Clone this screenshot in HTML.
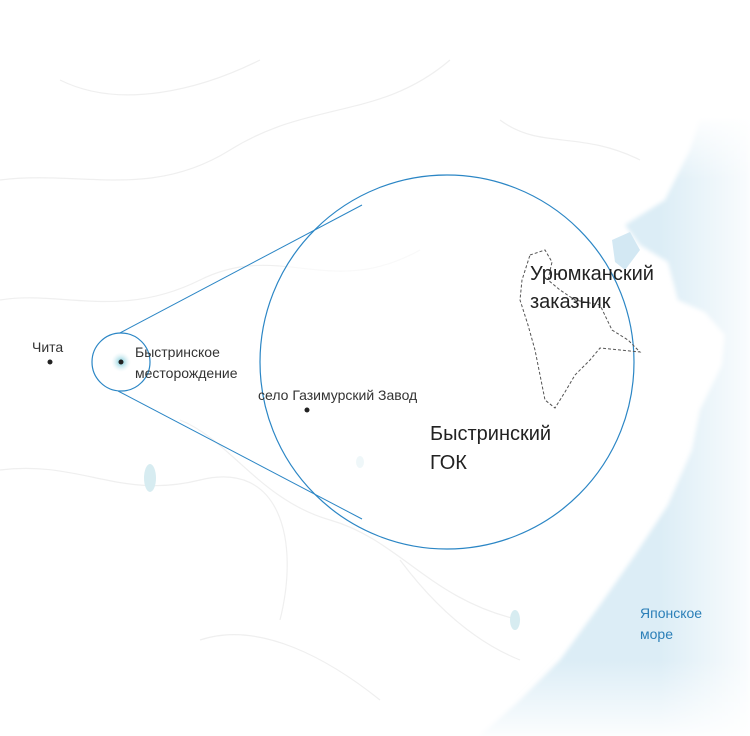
<!DOCTYPE html>
<html><head><meta charset="utf-8"><style>
html,body{margin:0;padding:0;background:#fff;}
svg{display:block;font-family:"Liberation Sans","Noto Sans CJK SC",sans-serif;}
</style></head><body>
<svg width="750" height="736" viewBox="0 0 750 736">
<defs>
<filter id="soft" x="-10%" y="-10%" width="120%" height="120%"><feGaussianBlur stdDeviation="2"/></filter>
<radialGradient id="dep"><stop offset="0" stop-color="#6cc4d4"/><stop offset="1" stop-color="#dff1f5" stop-opacity="0"/></radialGradient>
<linearGradient id="fadeR" x1="0" y1="0" x2="1" y2="0"><stop offset="0" stop-color="#fff" stop-opacity="0"/><stop offset="1" stop-color="#fff" stop-opacity="0.85"/></linearGradient>
<linearGradient id="fadeB" x1="0" y1="0" x2="0" y2="1"><stop offset="0" stop-color="#fff" stop-opacity="0"/><stop offset="1" stop-color="#fff" stop-opacity="0.9"/></linearGradient>
<linearGradient id="fadeT" x1="0" y1="0" x2="0" y2="1"><stop offset="0" stop-color="#fff" stop-opacity="1"/><stop offset="1" stop-color="#fff" stop-opacity="0"/></linearGradient>
</defs>
<g>
<path d="M700,120 L690,150 L665,200 L625,225 L640,245 L668,262 L678,300 L705,312 L725,335 L722,365 L700,410 L692,450 L668,505 L635,555 L600,605 L560,660 L520,700 L480,736 L750,736 L750,120 Z" fill="#dcedf6" filter="url(#soft)"/>
<path d="M612,240 L630,232 L640,250 L625,270 L615,262 Z" fill="#d3e8f3"/>
<rect x="660" y="110" width="90" height="626" fill="url(#fadeR)"/>
<rect x="450" y="660" width="300" height="76" fill="url(#fadeB)"/>
<rect x="600" y="110" width="150" height="70" fill="url(#fadeT)"/>
</g>
<g fill="none" stroke="#efefef" stroke-width="1.2">
<path d="M0,180 C80,170 150,200 230,150 S380,120 450,60"/>
<path d="M0,300 C60,290 120,320 200,280 S330,300 420,250"/>
<path d="M180,420 C230,440 260,500 330,520 S430,600 520,620"/>
<path d="M0,470 C80,460 120,500 200,480 S300,540 280,620"/>
<path d="M200,640 C260,620 330,660 380,700"/>
<path d="M400,560 C430,600 470,640 520,660"/>
<path d="M60,80 C120,110 200,90 260,60"/>
<path d="M500,120 C540,150 580,130 640,160"/>
</g>
<g fill="#d7ecf1">
<ellipse cx="150" cy="478" rx="6" ry="14"/><ellipse cx="515" cy="620" rx="5" ry="10"/><ellipse cx="360" cy="462" rx="4" ry="6"/>
</g>
<circle cx="447" cy="362" r="187" fill="#fff" fill-opacity="0.6" stroke="#2b86c5" stroke-width="1.2"/>
<line x1="118" y1="334" x2="362" y2="205" stroke="#2b86c5" stroke-width="1"/>
<line x1="118" y1="391" x2="362" y2="519" stroke="#2b86c5" stroke-width="1"/>
<circle cx="121" cy="362" r="29" fill="#fff" stroke="#2b86c5" stroke-width="1.2"/>
<circle cx="121" cy="362" r="10" fill="url(#dep)"/>
<circle cx="121" cy="362" r="2.5" fill="#222"/>
<path d="M530,255 L545,250 L552,262 L548,280 L560,290 L575,300 L600,305 L612,330 L628,340 L640,352 L620,350 L600,348 L590,360 L575,375 L565,392 L555,408 L545,400 L540,375 L535,350 L528,325 L520,300 L522,280 Z" fill="none" stroke="#555" stroke-width="1" stroke-dasharray="3,2"/>
<circle cx="50" cy="362" r="2.5" fill="#222"/>
<text x="32" y="352" font-size="14" fill="#333">Чита</text>
<text x="135" y="357" font-size="14" fill="#333">Быстринское</text>
<text x="135" y="378" font-size="14" fill="#333">месторождение</text>
<circle cx="307" cy="410" r="2.5" fill="#222"/>
<text x="258" y="400" font-size="14" fill="#333">село Газимурский Завод</text>
<text x="530" y="280" font-size="20" fill="#222">Урюмканский</text>
<text x="530" y="308" font-size="20" fill="#222">заказник</text>
<text x="430" y="440" font-size="20" fill="#222">Быстринский</text>
<text x="430" y="469" font-size="20" fill="#222">ГОК</text>
<text x="640" y="618" font-size="14" fill="#2b7fb8">Японское</text>
<text x="640" y="639" font-size="14" fill="#2b7fb8">море</text>
</svg>
</body></html>
